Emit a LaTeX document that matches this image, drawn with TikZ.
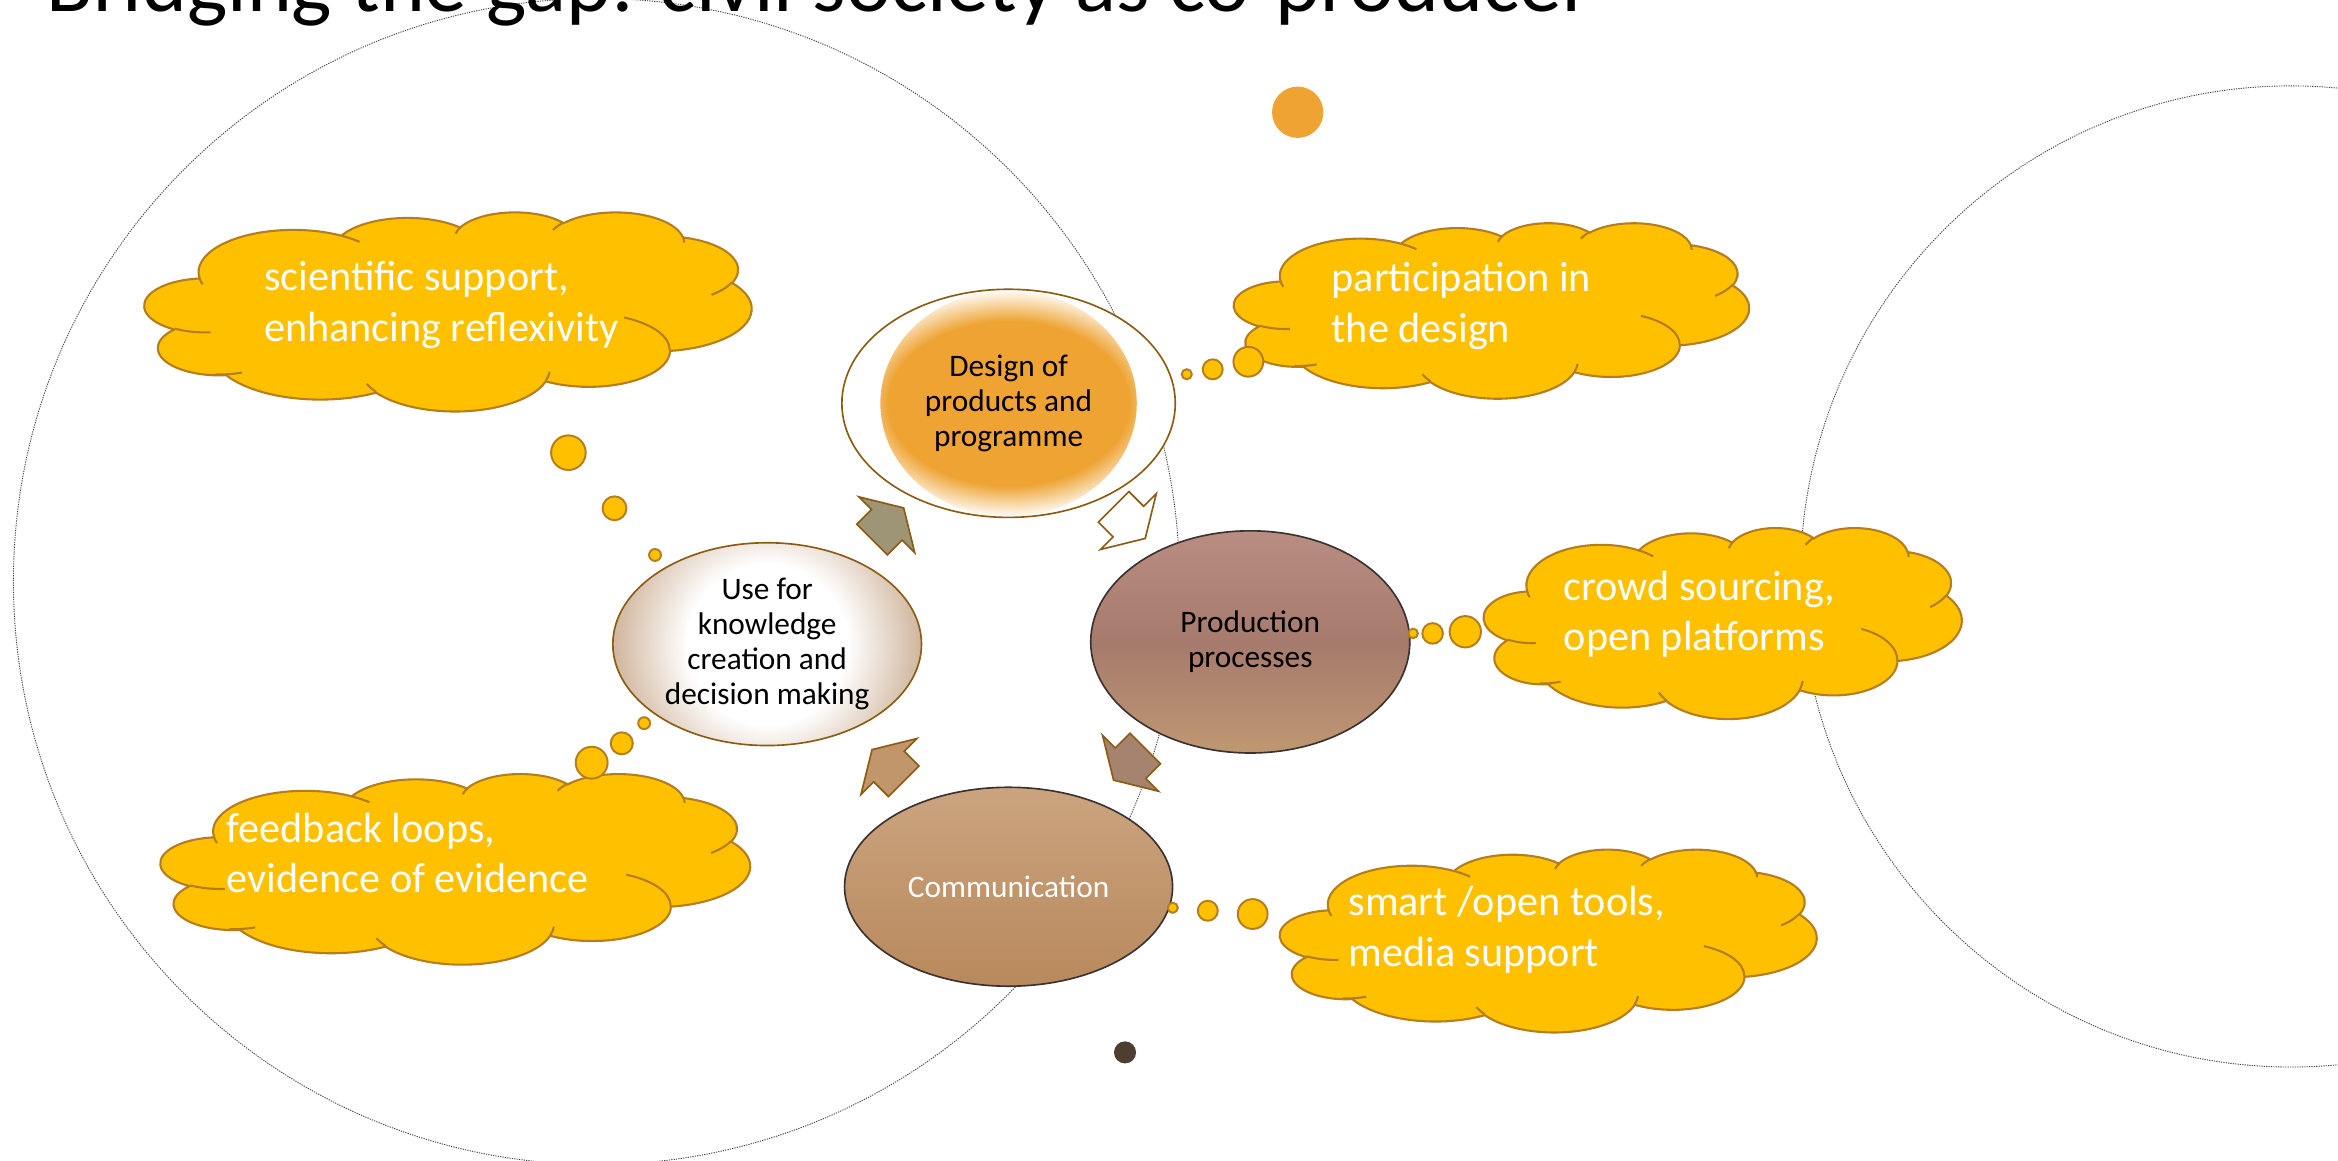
\documentclass[tikz,border=0pt]{standalone}
\usepackage{fontspec}
\setmainfont{Carlito}
\usetikzlibrary{shapes.geometric,calc}
\definecolor{dorange}{HTML}{EEA332}
\definecolor{usetan}{HTML}{C8A98C}
\definecolor{prodtop}{HTML}{BA8D82}
\definecolor{prodmid}{HTML}{A67A6C}
\definecolor{prodbot}{HTML}{BF9872}
\definecolor{commtop}{HTML}{CBA47F}
\definecolor{commbot}{HTML}{B8895C}
\definecolor{brownline}{HTML}{8C5B12}
\definecolor{darkline}{HTML}{3A3230}
\definecolor{olivefill}{HTML}{9E9576}
\definecolor{mauvefill}{HTML}{A5836F}
\definecolor{tanfill}{HTML}{C2966B}
\definecolor{cloudfill}{HTML}{FFC000}
\definecolor{cloudline}{HTML}{B47D1E}
\definecolor{darkdot}{HTML}{4E3D31}
\definecolor{ringline}{HTML}{3C3C3C}
\pgfdeclareradialshading{designglow}{\pgfpoint{0bp}{0bp}}{color(0bp)=(dorange); color(18bp)=(dorange); color(25bp)=(white); color(50bp)=(white)}
\pgfdeclareradialshading{useglow}{\pgfpoint{0bp}{0bp}}{color(0bp)=(white); color(12bp)=(white); color(25bp)=(usetan); color(50bp)=(usetan)}
\makeatletter
\pgfmathdeclarefunction{visang}{3}{%
  \begingroup
  \pgfmathparse{atan2((#1)*sin(#3),(#2)*cos(#3))}%
  \pgfmath@smuggleone\pgfmathresult
  \endgroup}
\makeatother
\newcommand\carc[4]{arc[x radius=#1, y radius=#2, start angle={visang(#1,#2,#3)}, delta angle={mod(visang(#1,#2,(#3)+(#4))-visang(#1,#2,#3)+720,360)}]}
\newcommand\cloudshape[4]{%
  \pgfmathsetmacro\cloudsx{#3/432}%
  \pgfmathsetmacro\cloudsy{#4/432}%
  \begin{scope}[shift={(#1,#2)}, x=\cloudsx pt, y=-\cloudsy pt]
    \filldraw[cloudbody] (39.00,143.70)
      \carc{67.53}{91.90}{-190.4875}{123.7805}
      \carc{53.33}{72.67}{-144.1024}{89.9452}
      \carc{43.65}{59.45}{-145.8079}{99.7230}
      \carc{48.57}{65.95}{-130.9861}{117.2417}
      \carc{53.33}{72.73}{-78.7089}{109.0269}
      \carc{67.75}{92.20}{-46.2673}{130.2690}
      \carc{57.85}{78.67}{0.6250}{114.0333}
      \carc{67.52}{92.15}{22.4516}{115.1726}
      \carc{77.20}{105.43}{66.2426}{75.7110}
      \carc{43.60}{59.18}{-274.9421}{146.7356}
      \carc{43.45}{59.45}{-246.8285}{152.5189}
      -- cycle;
    \draw[cloudcrease]
      (46.93,261.77) \carc{43.45}{59.45}{86.7420}{26.4295}
      (69.28,348.99) \carc{43.60}{59.18}{73.6105}{19.1399}
      (164.78,390.90) \carc{67.52}{92.15}{137.6242}{14.0811}
      (288.27,347.51) \carc{67.52}{92.15}{6.4533}{15.9984}
      (341.29,229.54) \carc{57.85}{78.67}{-70.2924}{70.9174}
      (417.98,153.54) \carc{53.33}{72.73}{30.3180}{27.7515}
      (383.24,54.26) \carc{48.57}{65.95}{-13.7443}{14.8506}
      (290.78,39.52) \carc{48.57}{65.95}{-149.1815}{18.1954}
      (221.41,47.20) \carc{43.65}{59.45}{-163.4943}{17.6864}
      (140.00,51.92) \carc{67.53}{91.90}{-66.7070}{12.3194}
      (41.27,157.89) \carc{67.53}{91.90}{157.6544}{11.8582};
  \end{scope}}
\tikzset{
  cloudbody/.style={fill=cloudfill, draw=cloudline, line width=1.4pt},
  cloudcrease/.style={draw=cloudline, line width=1.4pt},
  bubble/.style={fill=cloudfill, draw=cloudline, line width=1.3pt},
  cloudtext/.style={anchor=base west, inner sep=0pt, align=left, text=white,
    font=\fontsize{28.3}{34}\selectfont},
  stage/.style={ellipse, inner sep=0pt, align=center, line width=1.1pt,
    font=\fontsize{21}{23.6}\selectfont},
  ring/.style={draw=ringline, line width=0.6pt, dash pattern=on 0.8pt off 0.8pt},
  blockarrowstyle/.style={draw=brownline, line width=1.1pt},
  pics/blockarrow/.style={code={
    \path[pic actions] (-15,-14.5) -- (-1,-14.5) -- (-1,-26.5) -- (15,0)
      -- (-1,26.5) -- (-1,14.5) -- (-15,14.5) -- cycle;}}
}
\begin{document}
\begin{tikzpicture}[x=1pt, y=-1pt]
\useasboundingbox (0,0) rectangle (1568,778);
\clip (0,0) rectangle (1568,778);
\fill[white] (0,0) rectangle (1568,778);
% background rings
\draw[ring] (400,390) circle [radius=391];
\draw[ring] (1536.5,386.6) circle [radius=329];
% title
\node[anchor=base west, inner sep=0pt, font=\fontsize{57.3}{60}\selectfont] (title) at (31,8) {Bridging the gap: civil society as co-producer};
% clouds
\cloudshape{97}{142}{407}{133.5}
\cloudshape{107.8}{518.7}{395.2}{127.8}
\cloudshape{827.6}{149.3}{345.4}{117.7}
\cloudshape{995.2}{353.7}{320.4}{128.1}
\cloudshape{858.5}{569.4}{359.8}{122.6}
\node[cloudtext] (t1) at (177,229) {scientific support,\\enhancing reflexivity};
\node[cloudtext] (t2) at (152,598.7) {feedback loops,\\evidence of evidence};
\node[cloudtext] (t3) at (893,229.8) {participation in\\the design};
\node[cloudtext] (t4) at (1048.6,436.4) {crowd sourcing,\\open platforms};
\node[cloudtext] (t5) at (904.2,648.3) {smart /open tools,\\media support};
% stages
\node[stage, minimum width=223.6pt, minimum height=153pt, draw=brownline, fill=white,
  path picture={\shade[shading=designglow] (path picture bounding box.center) ellipse [x radius=86, y radius=76];}]
  (design) at (676.4,270.5) {Design of\\products and\\programme};
\node[stage, minimum width=214pt, minimum height=149pt, draw=darkline,
  top color=prodtop, bottom color=prodbot, middle color=prodmid]
  (prod) at (838.5,430.5) {Production\\processes};
\node[stage, minimum width=220pt, minimum height=133.4pt, draw=darkline,
  top color=commtop, bottom color=commbot, text=white]
  (comm) at (676.4,594.7) {Communication};
\node[stage, minimum width=207pt, minimum height=136pt, draw=brownline, fill=usetan,
  path picture={\shade[shading=useglow] (path picture bounding box.center) circle [radius=112];}]
  (use) at (514.5,432) {Use for\\knowledge\\creation and\\decision making};
% thought bubbles
\filldraw[bubble] (381.2,303.6) circle [radius=11.6];
\filldraw[bubble] (412.1,340.9) circle [radius=8];
\filldraw[bubble] (439.3,372.2) circle [radius=4];
\filldraw[bubble] (396.8,511.5) circle [radius=10.7];
\filldraw[bubble] (417,498.5) circle [radius=7.4];
\filldraw[bubble] (432,485) circle [radius=4];
\filldraw[bubble] (837.2,242.6) circle [radius=10];
\filldraw[bubble] (813.3,247.7) circle [radius=6.7];
\filldraw[bubble] (795.9,251) circle [radius=3.4];
\filldraw[bubble] (982.7,423.7) circle [radius=10.5];
\filldraw[bubble] (960.8,424.8) circle [radius=6.9];
\filldraw[bubble] (947.7,424.8) circle [radius=3.2];
\filldraw[bubble] (840.1,613) circle [radius=10];
\filldraw[bubble] (810,610.8) circle [radius=6.7];
\filldraw[bubble] (786.5,608.8) circle [radius=3.4];
% cycle arrows
\pic[blockarrowstyle, fill=olivefill, rotate=45] (a1) at ($(use)!0.5!(design)$) {blockarrow};
\pic[blockarrowstyle, fill=white, rotate=-45] (a2) at ($(design)!0.5!(prod)$) {blockarrow};
\pic[blockarrowstyle, fill=mauvefill, rotate=-135] (a3) at ($(prod)!0.5!(comm)$) {blockarrow};
\pic[blockarrowstyle, fill=tanfill, rotate=135] (a4) at ($(comm)!0.5!(use)$) {blockarrow};
% dots
\fill[dorange] (870.3,75.3) circle [radius=17.2];
\fill[darkdot] (754.5,705.8) circle [radius=7.4];
\end{tikzpicture}
\end{document}
